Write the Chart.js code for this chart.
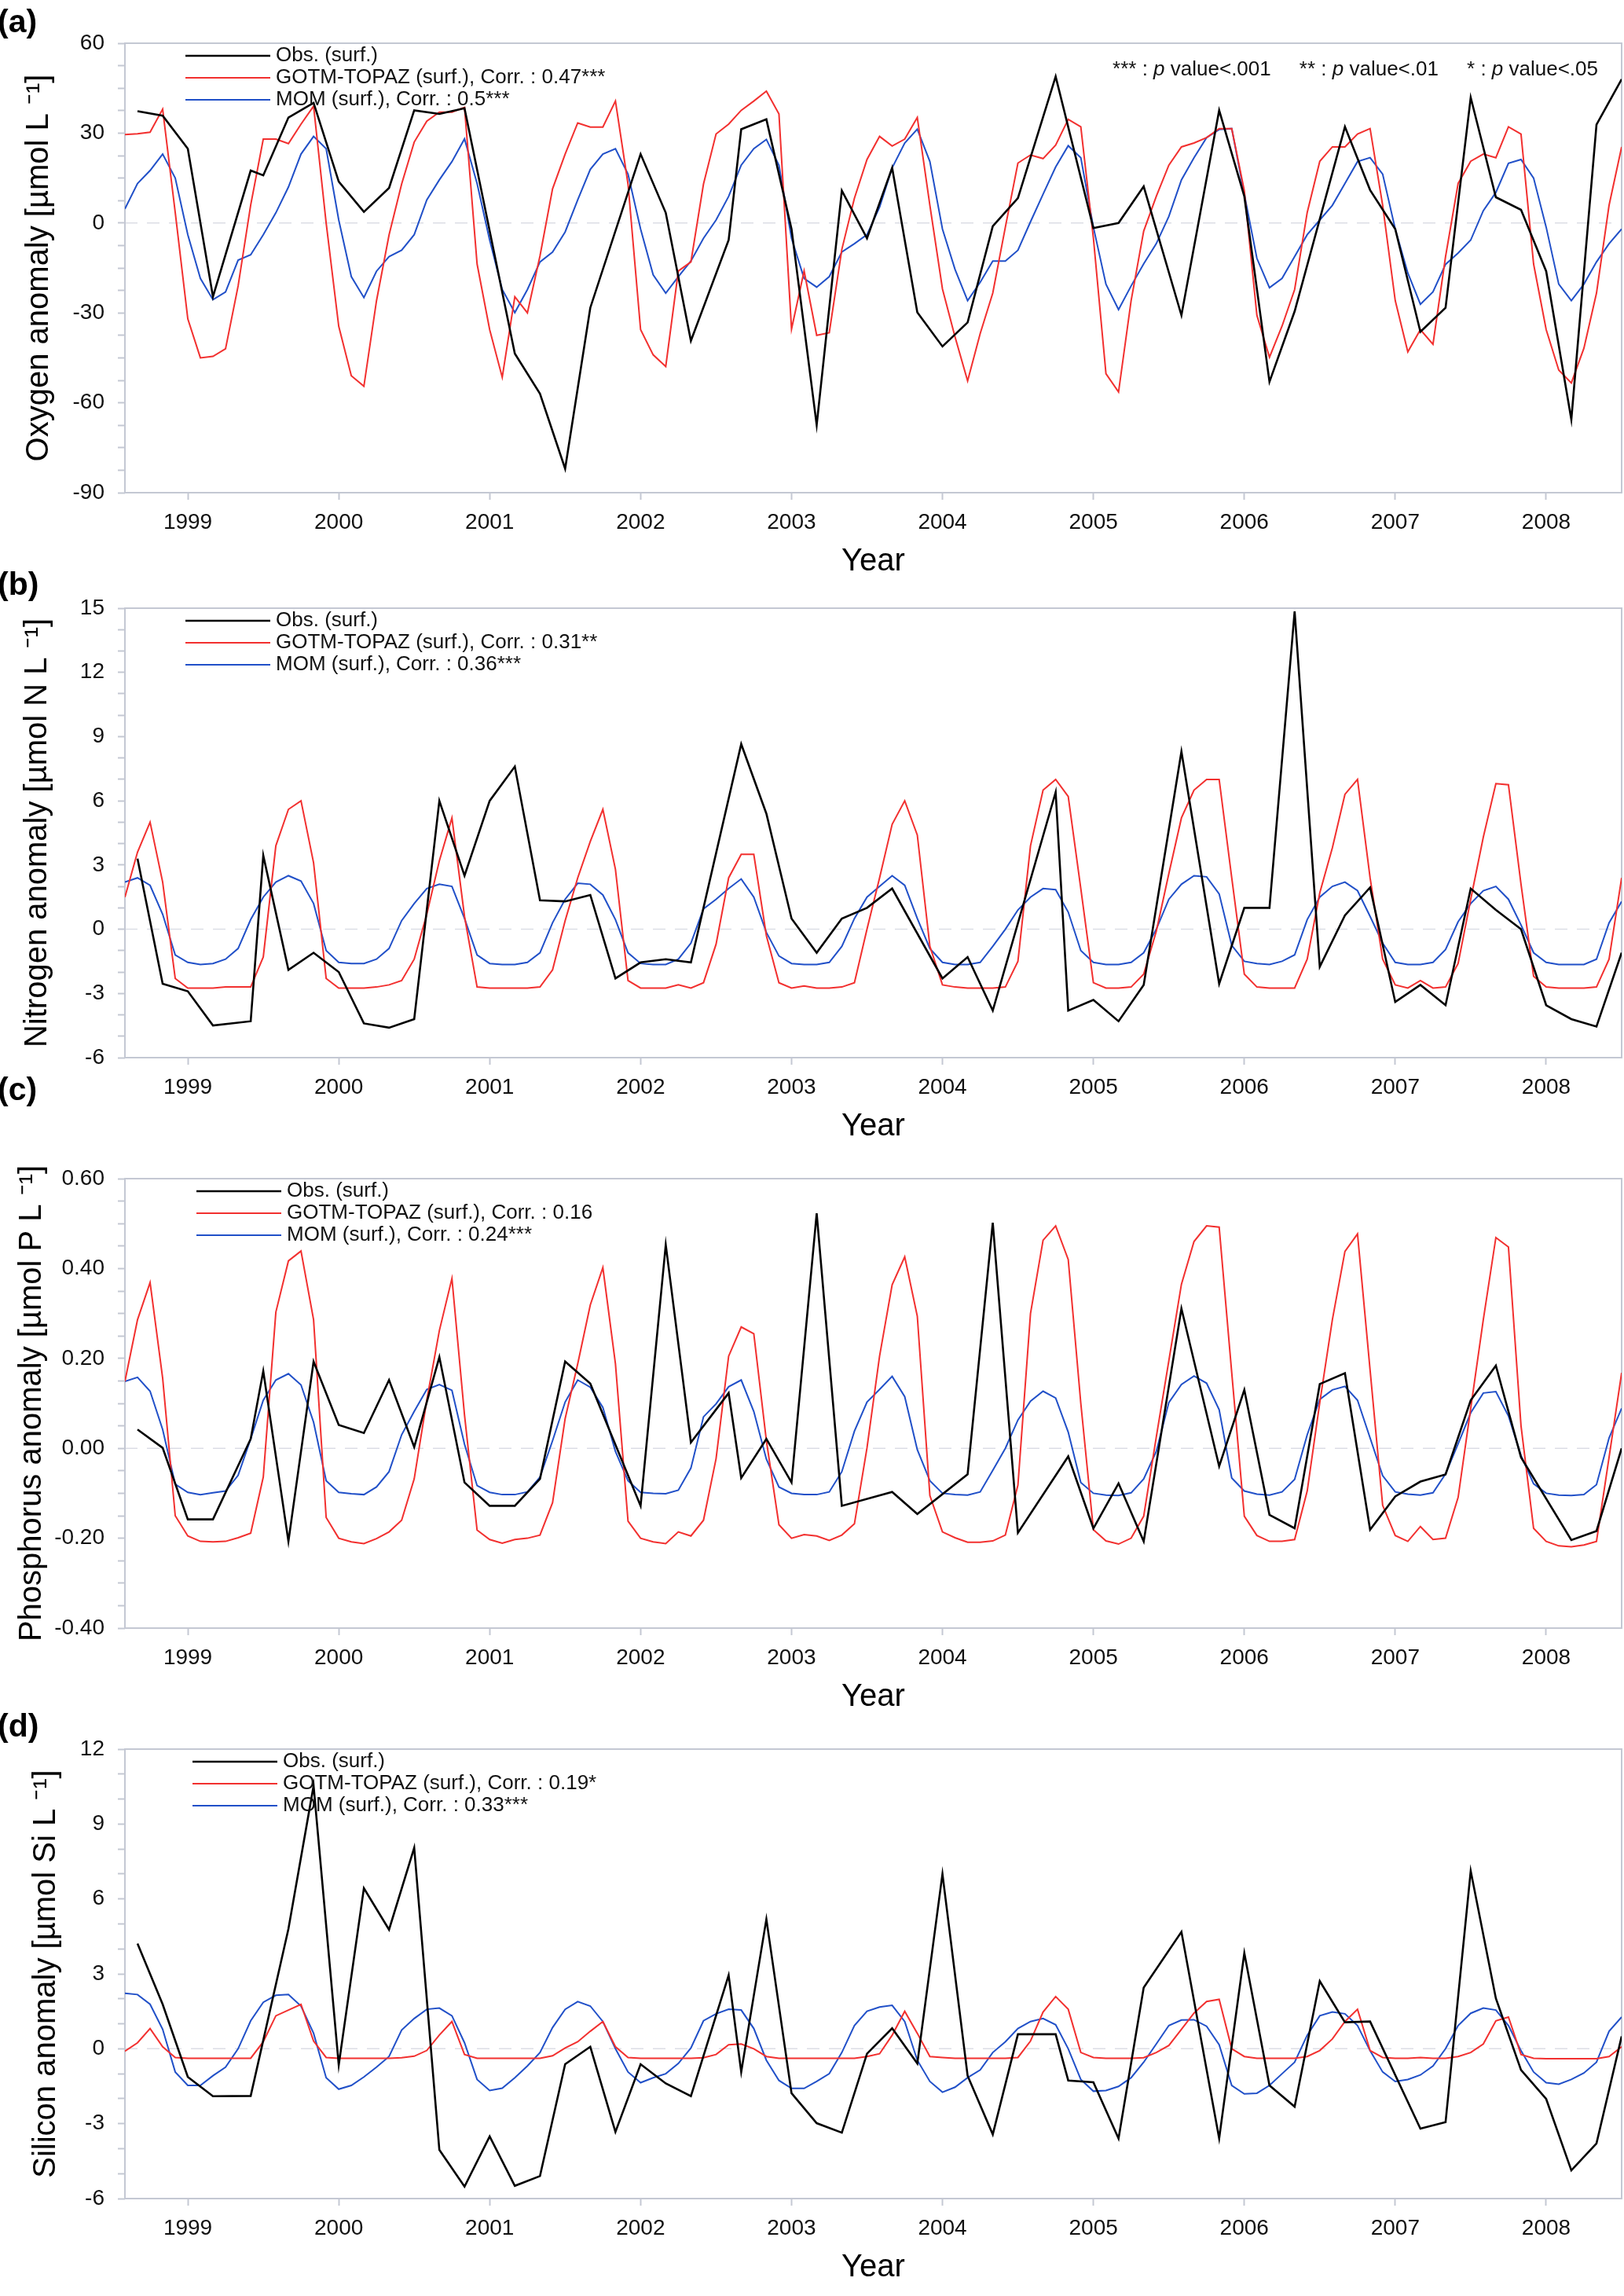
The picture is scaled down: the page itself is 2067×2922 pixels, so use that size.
<!DOCTYPE html>
<html>
<head>
<meta charset="utf-8">
<title>Surface anomalies 1998-2008</title>
<script src="https://cdn.jsdelivr.net/npm/chart.js@4.4.1/dist/chart.umd.min.js"></script>
<style>
  html, body { margin: 0; padding: 0; background: #fff; }
  #page { position: relative; width: 2067px; height: 2922px; overflow: hidden; background: #fff; }
  .panel { position: absolute; left: 0; width: 2067px; height: 740px; }
  .tag { position: absolute; left: -3px; font: bold 41px "Liberation Sans", Arial, sans-serif; line-height: 1; color: #000; }
</style>
</head>
<body>
<div id="page">
  <div class="panel" style="top:0px"><canvas id="cA" width="2067" height="740"></canvas></div>
  <div class="panel" style="top:719px"><canvas id="cB" width="2067" height="740"></canvas></div>
  <div class="panel" style="top:1445px"><canvas id="cC" width="2067" height="740"></canvas></div>
  <div class="panel" style="top:2171px"><canvas id="cD" width="2067" height="740"></canvas></div>
  <div class="tag" style="top:7px">(a)</div>
  <div class="tag" style="top:723px">(b)</div>
  <div class="tag" style="top:1366px">(c)</div>
  <div class="tag" style="top:2176px">(d)</div>
</div>
<script>
// ---- data ----
const modelStart = '1998-08';   // first monthly model value
const modelCount = 120;         // monthly values up to 2008-07
const xMin = 1998 + 7 / 12;
const xMax = 2008.5;
const yearTicks = [1999, 2000, 2001, 2002, 2003, 2004, 2005, 2006, 2007, 2008];

// (a) oxygen
const obsDatesA = ['1998-09','1998-11','1999-01','1999-03','1999-06','1999-07','1999-09','1999-11','2000-01','2000-03',
  '2000-05','2000-07','2000-09','2000-11','2001-03','2001-05','2001-07','2001-09','2002-01','2002-03',
  '2002-05','2002-08','2002-09','2002-11','2003-01','2003-03','2003-05','2003-07','2003-09','2003-11',
  '2004-01','2004-03','2004-05','2004-07','2004-10','2005-01','2005-03','2005-05','2005-08','2005-11',
  '2006-01','2006-03','2006-05','2006-09','2006-11','2007-01','2007-03','2007-05','2007-07','2007-09',
  '2007-11','2008-01','2008-03','2008-05','2008-07'];
const obsA = [37.3,35.8,24.8,-24.6,17.5,15.9,35.2,40.1,13.8,3.7,
  11.7,37.6,36.4,38.3,-43.6,-57,-82,-28.3,23,3.4,
  -39.3,-5.7,31.3,34.6,-2,-67.4,10.8,-5.1,18.4,-29.8,
  -41.2,-33.2,-1.1,8.3,48.9,-1.7,0,12.2,-30.8,37.6,
  8.9,-53,-29.5,32.1,11,-2,-36.3,-28.3,41.9,8.6,
  4.4,-16.1,-65.6,32.8,48];
const gotmA = [29.5,29.8,30.3,38,3.5,-32,-45,-44.5,-42,-21,
  6,28,28,26.5,33,39,0,-34.5,-51,-54.5,
  -26,-4,13,27,34,37,37,38.6,-13.7,-35.6,
  -51.5,-24.6,-30,-11,11.4,23,33.4,32,32,40.7,
  13,-35.6,-44,-47.9,-16,-13,13,29.7,33,37.6,
  40.7,44,36.4,-35.4,-16,-37.5,-36.6,-8.8,8.3,21.2,
  28.9,25.7,28,35.2,5.9,-22,-38,-52.7,-36.9,-23.4,
  -1.4,20,22.7,21.5,26,34.6,32.1,-5,-50.3,-56.4,
  -25.9,-2.7,8.9,19.3,25.4,26.7,28.5,31.5,31.5,10.8,
  -30.8,-44.8,-34.4,-22.2,3.5,20.6,25.4,25.4,29.7,31.5,
  5.9,-25.9,-43,-35.6,-40.5,-11.2,13.2,20.6,23,21.8,
  32.1,29.7,-13.7,-35.6,-49.1,-53.4,-41.8,-23.4,5.9,25.4];
const momA = [4.7,13.2,17.5,23,15,-3.9,-18.5,-25.6,-23,-12.4,
  -10.6,-3.9,3.4,12,23,28.9,24.8,1,-17.9,-24.9,
  -16.1,-11.2,-9.1,-3.9,7.7,14.4,20.5,28.1,13.2,-5.7,
  -22.2,-29.9,-22.2,-13,-9.7,-3,7.7,17.9,23,24.8,
  16.3,-2,-17.3,-23.4,-17.9,-12.7,-5.1,1,8.9,19.3,
  24.8,27.9,19.3,-5.1,-18.5,-21.4,-17.9,-9.7,-6.9,-3.9,
  5.3,18.4,26.7,31.3,20.5,-2,-15.5,-25.9,-19.8,-12.7,
  -12.7,-9.1,0.4,9.6,18.7,25.8,21.8,-1.4,-20.4,-28.9,
  -21,-13.6,-6.9,2.2,14.4,21.8,28.5,31.2,31.5,9.6,
  -11.8,-21.6,-18.5,-11.2,-3.9,1,5.9,13.2,20.5,21.8,
  16.3,-2,-16.7,-27.1,-23,-13.8,-10,-5.7,4.1,10.2,
  19.9,21.2,15,-1.4,-20.4,-25.9,-20.4,-13,-6.9,-2];
const seriesNamesA = ['Obs. (surf.)', 'GOTM-TOPAZ (surf.), Corr. : 0.47***', 'MOM (surf.), Corr. : 0.5***'];
const yTicksA = [-90, -60, -30, 0, 30, 60];

// (b) nitrogen
const obsDatesB = ['1998-09','1998-11','1999-01','1999-03','1999-06','1999-07','1999-09','1999-11','2000-01','2000-03',
  '2000-05','2000-07','2000-09','2000-11','2001-01','2001-03','2001-05','2001-07','2001-09','2001-11',
  '2002-01','2002-03','2002-05','2002-09','2002-11','2003-01','2003-03','2003-05','2003-07','2003-09',
  '2004-01','2004-03','2004-05','2004-10','2004-11','2005-01','2005-03','2005-05','2005-08','2005-11',
  '2006-01','2006-03','2006-05','2006-07','2006-09','2006-11','2007-01','2007-03','2007-05','2007-07',
  '2007-09','2007-11','2008-01','2008-03','2008-05','2008-07'];
const obsB = [3.3,-2.55,-2.9,-4.5,-4.3,3.45,-1.9,-1.1,-2.0,-4.4,
  -4.6,-4.2,6.0,2.5,6.0,7.6,1.35,1.3,1.6,-2.3,
  -1.55,-1.4,-1.55,8.65,5.4,0.5,-1.1,0.5,1.0,1.9,
  -2.3,-1.3,-3.8,6.4,-3.8,-3.3,-4.3,-2.6,8.3,-2.55,
  1.0,1.0,14.85,-1.75,0.65,1.95,-3.4,-2.6,-3.55,1.9,
  0.9,0.0,-3.55,-4.2,-4.55,-1.1];
const gotmB = [1.5,3.6,5.0,2.2,-2.3,-2.75,-2.75,-2.75,-2.7,-2.7,
  -2.7,-1.3,3.9,5.6,6.0,3.1,-2.3,-2.75,-2.75,-2.75,
  -2.7,-2.6,-2.4,-1.4,0.7,3.2,5.2,0.6,-2.7,-2.75,
  -2.75,-2.75,-2.75,-2.7,-1.9,0.4,2.4,4.1,5.6,2.8,
  -2.4,-2.75,-2.75,-2.75,-2.6,-2.75,-2.5,-0.7,2.4,3.5,
  3.5,-0.3,-2.5,-2.75,-2.65,-2.75,-2.75,-2.7,-2.5,0,
  2.4,4.9,6.0,4.4,-0.8,-2.6,-2.7,-2.75,-2.75,-2.75,
  -2.7,-1.5,3.9,6.5,7.0,6.2,1.9,-2.5,-2.75,-2.75,
  -2.7,-2.1,-0.1,2.6,5.2,6.5,7.0,7.0,2.4,-2.1,
  -2.7,-2.75,-2.75,-2.75,-1.4,1.7,3.8,6.3,7.0,2.4,
  -1.4,-2.6,-2.75,-2.4,-2.75,-2.7,-1.6,1.4,4.3,6.8,
  6.75,2.1,-2.2,-2.7,-2.75,-2.75,-2.75,-2.7,-1.4,2.4];
const momB = [2.2,2.4,2.05,0.7,-1.2,-1.55,-1.65,-1.6,-1.4,-0.9,
  0.45,1.5,2.2,2.5,2.25,1.2,-1.0,-1.55,-1.6,-1.6,
  -1.4,-0.9,0.4,1.2,1.9,2.1,2.0,0.5,-1.2,-1.6,
  -1.65,-1.65,-1.55,-1.1,0.3,1.4,2.15,2.1,1.6,0.45,
  -1.1,-1.6,-1.65,-1.65,-1.4,-0.65,0.95,1.4,1.9,2.35,
  1.5,-0.15,-1.25,-1.6,-1.65,-1.65,-1.55,-0.8,0.5,1.5,
  2.0,2.5,2.05,0.5,-0.9,-1.55,-1.65,-1.65,-1.55,-0.8,
  0,0.9,1.5,1.9,1.85,0.8,-1.0,-1.55,-1.65,-1.65,
  -1.55,-1.1,0,1.4,2.1,2.5,2.45,1.65,-0.75,-1.5,
  -1.6,-1.65,-1.5,-1.2,0.45,1.5,2.0,2.2,1.8,0.6,
  -0.65,-1.55,-1.65,-1.65,-1.55,-0.95,0.35,1.2,1.8,2.0,
  1.4,0.2,-1.1,-1.55,-1.65,-1.65,-1.65,-1.4,0.3,1.3];
const seriesNamesB = ['Obs. (surf.)', 'GOTM-TOPAZ (surf.), Corr. : 0.31**', 'MOM (surf.), Corr. : 0.36***'];
const yTicksB = [-6, -3, 0, 3, 6, 9, 12, 15];

// (c) phosphorus
const obsDatesC = ['1998-09','1998-11','1999-01','1999-03','1999-06','1999-07','1999-09','1999-11','2000-01','2000-03',
  '2000-05','2000-07','2000-09','2000-11','2001-01','2001-03','2001-05','2001-07','2001-09','2002-01',
  '2002-03','2002-05','2002-08','2002-09','2002-11','2003-01','2003-03','2003-05','2003-09','2003-11',
  '2004-03','2004-05','2004-07','2004-11','2005-01','2005-03','2005-05','2005-08','2005-11','2006-01',
  '2006-03','2006-05','2006-07','2006-09','2006-11','2007-01','2007-03','2007-05','2007-07','2007-09',
  '2007-11','2008-03','2008-05','2008-07'];
const obsC = [0.042,0.001,-0.158,-0.158,0.021,0.172,-0.207,0.193,0.052,0.034,
  0.152,0.003,0.203,-0.076,-0.128,-0.128,-0.068,0.193,0.144,-0.128,
  0.453,0.013,0.123,-0.066,0.021,-0.076,0.523,-0.128,-0.097,-0.146,
  -0.058,0.502,-0.188,-0.018,-0.178,-0.078,-0.207,0.311,-0.04,0.13,
  -0.148,-0.178,0.143,0.167,-0.181,-0.107,-0.074,-0.058,0.107,0.184,
  -0.02,-0.204,-0.184,0];
const gotmC = [0.149,0.286,0.369,0.156,-0.15,-0.195,-0.207,-0.208,-0.207,-0.199,
  -0.189,-0.064,0.303,0.417,0.439,0.286,-0.154,-0.2,-0.208,-0.212,
  -0.201,-0.186,-0.16,-0.068,0.107,0.262,0.378,0.074,-0.182,-0.203,
  -0.211,-0.203,-0.2,-0.193,-0.121,0.066,0.188,0.319,0.402,0.188,
  -0.162,-0.2,-0.208,-0.212,-0.186,-0.195,-0.16,-0.023,0.205,0.27,
  0.255,0.017,-0.17,-0.2,-0.192,-0.195,-0.205,-0.193,-0.168,0.001,
  0.205,0.364,0.426,0.294,-0.105,-0.186,-0.199,-0.209,-0.209,-0.206,
  -0.193,-0.082,0.30,0.463,0.495,0.42,0.1,-0.181,-0.206,-0.213,
  -0.2,-0.151,0.025,0.195,0.365,0.46,0.495,0.492,0.168,-0.151,
  -0.194,-0.207,-0.207,-0.203,-0.095,0.102,0.286,0.438,0.477,0.174,
  -0.127,-0.194,-0.207,-0.174,-0.203,-0.2,-0.109,0.089,0.286,0.469,
  0.448,0.05,-0.178,-0.207,-0.217,-0.219,-0.215,-0.207,-0.02,0.168];
const momC = [0.149,0.158,0.127,0.042,-0.08,-0.098,-0.103,-0.099,-0.095,-0.06,
  0.021,0.107,0.152,0.166,0.141,0.058,-0.072,-0.098,-0.101,-0.103,
  -0.086,-0.052,0.03,0.082,0.131,0.142,0.129,0.009,-0.083,-0.098,
  -0.103,-0.103,-0.097,-0.064,0.017,0.103,0.152,0.136,0.091,-0.007,
  -0.072,-0.098,-0.1,-0.101,-0.093,-0.044,0.07,0.099,0.137,0.152,
  0.082,-0.024,-0.086,-0.1,-0.103,-0.103,-0.097,-0.052,0.038,0.103,
  0.131,0.16,0.115,-0.003,-0.072,-0.1,-0.103,-0.104,-0.097,-0.049,
  0,0.063,0.105,0.127,0.112,0.036,-0.076,-0.1,-0.104,-0.105,
  -0.099,-0.068,-0.007,0.102,0.142,0.161,0.145,0.086,-0.066,-0.095,
  -0.102,-0.104,-0.097,-0.069,0.03,0.109,0.13,0.138,0.107,0.023,
  -0.061,-0.097,-0.102,-0.104,-0.099,-0.057,0.01,0.079,0.123,0.126,
  0.072,-0.016,-0.079,-0.1,-0.104,-0.105,-0.103,-0.081,0.023,0.089];
const seriesNamesC = ['Obs. (surf.)', 'GOTM-TOPAZ (surf.), Corr. : 0.16', 'MOM (surf.), Corr. : 0.24***'];
const yTicksC = [-0.4, -0.2, 0, 0.2, 0.4, 0.6];

// (d) silicon
const obsDatesD = ['1998-09','1998-11','1999-01','1999-03','1999-06','1999-09','1999-11','2000-01','2000-03','2000-05',
  '2000-07','2000-09','2000-11','2001-01','2001-03','2001-05','2001-07','2001-09','2001-11','2002-01',
  '2002-03','2002-05','2002-08','2002-09','2002-11','2003-01','2003-03','2003-05','2003-07','2003-09',
  '2003-11','2004-01','2004-03','2004-05','2004-07','2004-10','2004-11','2005-01','2005-03','2005-05',
  '2005-08','2005-11','2006-01','2006-03','2006-05','2006-07','2006-09','2006-11','2007-03','2007-05',
  '2007-07','2007-09','2007-11','2008-01','2008-03','2008-05','2008-07'];
const obsD = [4.21,1.78,-1.13,-1.9,-1.89,4.8,10.53,-0.65,6.43,4.77,
  8.05,-4.05,-5.52,-3.51,-5.49,-5.1,-0.62,0.08,-3.33,-0.62,
  -1.39,-1.9,2.94,-0.93,5.19,-1.78,-2.98,-3.36,-0.2,0.82,
  -0.59,7.0,-1.08,-3.43,0.58,0.58,-1.27,-1.34,-3.59,2.45,
  4.68,-3.59,3.83,-1.47,-2.32,2.71,1.06,1.09,-3.2,-2.94,
  7.12,2.02,-0.85,-2.01,-4.87,-3.79,0.5];
const gotmD = [-0.1,0.24,0.81,0.08,-0.35,-0.38,-0.38,-0.38,-0.38,-0.38,
  -0.38,0.28,1.32,1.55,1.78,0.31,-0.35,-0.38,-0.38,-0.38,
  -0.38,-0.38,-0.36,-0.3,-0.07,0.55,1.09,-0.23,-0.38,-0.38,
  -0.38,-0.38,-0.38,-0.38,-0.28,0.03,0.28,0.7,1.09,0.08,
  -0.35,-0.38,-0.38,-0.38,-0.38,-0.38,-0.36,-0.23,0.16,0.19,
  0.0,-0.31,-0.38,-0.38,-0.38,-0.38,-0.38,-0.38,-0.38,-0.31,
  -0.2,0.54,1.5,0.62,-0.31,-0.35,-0.38,-0.38,-0.38,-0.38,
  -0.38,-0.35,0.31,1.47,2.09,1.58,-0.15,-0.35,-0.38,-0.38,
  -0.38,-0.36,-0.15,0.13,0.78,1.43,1.89,1.98,0.0,-0.31,
  -0.38,-0.38,-0.38,-0.38,-0.31,-0.07,0.39,1.09,1.58,-0.07,
  -0.35,-0.38,-0.38,-0.35,-0.38,-0.38,-0.31,-0.15,0.19,1.12,
  1.27,-0.23,-0.38,-0.4,-0.4,-0.4,-0.4,-0.4,-0.31,0.08];
const momD = [2.22,2.17,1.78,0.78,-0.93,-1.47,-1.47,-1.08,-0.74,0.0,
  1.12,1.86,2.14,2.17,1.71,0.62,-1.16,-1.62,-1.47,-1.13,
  -0.74,-0.31,0.75,1.21,1.58,1.63,1.32,0.24,-1.23,-1.67,
  -1.58,-1.16,-0.69,-0.15,0.85,1.58,1.89,1.71,1.09,0.0,
  -0.93,-1.36,-1.16,-1.0,-0.59,0.03,1.12,1.4,1.58,1.55,
  0.81,-0.46,-1.27,-1.59,-1.59,-1.31,-1.0,-0.15,0.93,1.5,
  1.67,1.74,1.09,-0.46,-1.31,-1.74,-1.54,-1.16,-0.85,-0.15,
  0.28,0.81,1.09,1.21,0.96,0.0,-1.23,-1.7,-1.67,-1.51,
  -1.16,-0.54,0.19,0.93,1.15,1.16,0.9,0.16,-1.47,-1.81,
  -1.78,-1.47,-1.0,-0.54,0.54,1.32,1.47,1.4,0.93,-0.08,
  -0.93,-1.31,-1.23,-1.05,-0.69,0.0,0.93,1.42,1.63,1.55,
  0.93,-0.08,-0.93,-1.36,-1.42,-1.23,-0.97,-0.54,0.7,1.27];
const seriesNamesD = ['Obs. (surf.)', 'GOTM-TOPAZ (surf.), Corr. : 0.19*', 'MOM (surf.), Corr. : 0.33***'];
const yTicksD = [-6, -3, 0, 3, 6, 9, 12];

// ---- helpers ----
const FONT = '"Liberation Sans", Arial, Helvetica, sans-serif';
const FRAME = '#c4c8d3';
const tickSize = 28;
const titleSize = 40;

function decYear(s) {
  const [y, m] = s.split('-').map(Number);
  return y + (m - 1) / 12;
}
function monthSeq(start, n) {
  const out = [];
  let [y, m] = start.split('-').map(Number);
  for (let i = 0; i < n; i++) {
    out.push(y + (m - 1) / 12);
    m++;
    if (m > 12) { m = 1; y++; }
  }
  return out;
}
const modelX = monthSeq(modelStart, modelCount);

// frame, zero line, legend and p-value note
const decor = {
  id: 'decor',
  beforeDatasetsDraw(chart) {
    const { ctx, chartArea: a, scales } = chart;
    const y0 = scales.y.getPixelForValue(0);
    ctx.save();
    ctx.strokeStyle = '#dcdde5';
    ctx.lineWidth = 1.5;
    ctx.setLineDash([16, 12]);
    ctx.beginPath();
    ctx.moveTo(a.left, y0);
    ctx.lineTo(a.right, y0);
    ctx.stroke();
    ctx.setLineDash([]);
    ctx.strokeStyle = FRAME;
    ctx.lineWidth = 2;
    ctx.strokeRect(a.left, a.top, a.right - a.left, a.bottom - a.top);
    ctx.restore();
  },
  afterDraw(chart, args, opts) {
    const { ctx, chartArea: a } = chart;
    ctx.save();
    ctx.font = '26px ' + FONT;
    ctx.textBaseline = 'middle';
    ctx.fillStyle = '#111';
    chart.data.datasets.forEach((ds, i) => {
      const y = a.top + 16 + 28 * i;
      const x0 = a.left + opts.dx;
      ctx.strokeStyle = ds.borderColor;
      ctx.lineWidth = ds.borderWidth;
      ctx.beginPath();
      ctx.moveTo(x0, y);
      ctx.lineTo(x0 + 108, y);
      ctx.stroke();
      ctx.fillText(ds.label, x0 + 115, y);
    });
    if (opts.note) {
      const parts = [['*** : ', ''], ['p', 'italic '], [' value<.001', ''], ['     ', ''],
                     ['** : ', ''], ['p', 'italic '], [' value<.01', ''], ['     ', ''],
                     ['* : ', ''], ['p', 'italic '], [' value<.05', '']];
      let w = 0;
      parts.forEach(p => { ctx.font = p[1] + '26px ' + FONT; w += ctx.measureText(p[0]).width; });
      let x = a.right - 30 - w;
      const y = a.top + 34;
      parts.forEach(p => {
        ctx.font = p[1] + '26px ' + FONT;
        ctx.fillText(p[0], x, y);
        x += ctx.measureText(p[0]).width;
      });
    }
    ctx.restore();
  }
};

function makePanel(p) {
  const obsPts = p.obsDates.map((d, i) => ({ x: decYear(d), y: p.obs[i] }));
  const gotmPts = modelX.map((x, i) => ({ x, y: p.gotm[i] }));
  const momPts = modelX.map((x, i) => ({ x, y: p.mom[i] }));
  const isMajor = v => p.major.some(m => Math.abs(m - v) < 1e-9);
  new Chart(document.getElementById(p.id), {
    type: 'line',
    data: {
      datasets: [
        { label: p.names[0], data: obsPts, borderColor: '#000000', borderWidth: 2.6 },
        { label: p.names[1], data: gotmPts, borderColor: '#f2302f', borderWidth: 2 },
        { label: p.names[2], data: momPts, borderColor: '#2150c8', borderWidth: 2 }
      ]
    },
    options: {
      responsive: false,
      animation: false,
      events: [],
      layout: { padding: { top: 55, right: 3, left: 0, bottom: 0 } },
      elements: { point: { radius: 0 }, line: { tension: 0, fill: false } },
      plugins: {
        legend: { display: false },
        tooltip: { enabled: false },
        decor: { dx: p.legendDx, note: p.note }
      },
      scales: {
        x: {
          type: 'linear',
          min: xMin,
          max: xMax,
          afterBuildTicks: s => { s.ticks = yearTicks.map(v => ({ value: v })); },
          afterFit: s => { s.height = 113; },
          border: { display: false },
          grid: { drawOnChartArea: false, drawTicks: true, tickLength: 9, tickWidth: 2, tickColor: FRAME },
          ticks: { autoSkip: false, maxRotation: 0, padding: 12, color: '#111',
                   font: { family: FONT, size: tickSize }, callback: v => String(v) },
          title: { display: true, text: 'Year', color: '#000',
                   font: { family: FONT, size: titleSize }, padding: { top: 0, bottom: 1 } }
        },
        y: {
          type: 'linear',
          min: p.yMin,
          max: p.yMax,
          afterBuildTicks: s => {
            const n = Math.round((p.yMax - p.yMin) / p.yStep);
            const t = [];
            for (let k = 0; k <= n; k++) t.push({ value: p.yMin + k * p.yStep });
            s.ticks = t;
          },
          afterFit: s => { s.width = 159; },
          border: { display: false },
          grid: { drawOnChartArea: false, drawTicks: true, tickLength: 9, tickWidth: 2, tickColor: FRAME },
          ticks: { autoSkip: false, padding: 17, color: '#111',
                   font: { family: FONT, size: tickSize },
                   callback: v => isMajor(v) ? p.fmt(v) : '' },
          title: { display: true, text: p.yTitle, color: '#000',
                   font: { family: FONT, size: titleSize }, padding: { top: p.titlePad, bottom: 0 } }
        }
      }
    },
    plugins: [decor]
  });
}

makePanel({ id: 'cA', obsDates: obsDatesA, obs: obsA, gotm: gotmA, mom: momA, names: seriesNamesA,
  yTitle: 'Oxygen anomaly [\u00b5mol L \u207b\u00b9]', yMin: -90, yMax: 60, yStep: 7.5, major: yTicksA,
  fmt: v => String(v), titlePad: 26, legendDx: 77, note: true });
makePanel({ id: 'cB', obsDates: obsDatesB, obs: obsB, gotm: gotmB, mom: momB, names: seriesNamesB,
  yTitle: 'Nitrogen anomaly [\u00b5mol N L \u207b\u00b9]', yMin: -6, yMax: 15, yStep: 1, major: yTicksB,
  fmt: v => String(v), titlePad: 24, legendDx: 77, note: false });
makePanel({ id: 'cC', obsDates: obsDatesC, obs: obsC, gotm: gotmC, mom: momC, names: seriesNamesC,
  yTitle: 'Phosphorus anomaly [\u00b5mol P L \u207b\u00b9]', yMin: -0.4, yMax: 0.6, yStep: 0.05, major: yTicksC,
  fmt: v => (Math.abs(v) < 1e-9 ? 0 : v).toFixed(2), titlePad: 17, legendDx: 91, note: false });
makePanel({ id: 'cD', obsDates: obsDatesD, obs: obsD, gotm: gotmD, mom: momD, names: seriesNamesD,
  yTitle: 'Silicon anomaly [\u00b5mol Si L \u207b\u00b9]', yMin: -6, yMax: 12, yStep: 1, major: yTicksD,
  fmt: v => String(v), titlePad: 35, legendDx: 86, note: false });
</script>
</body>
</html>
